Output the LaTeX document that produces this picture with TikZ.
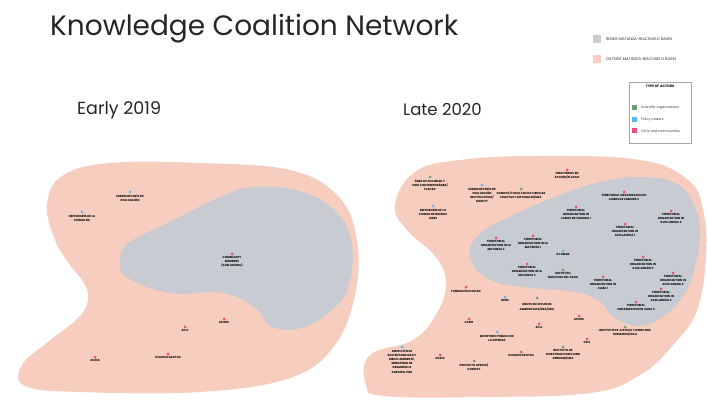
\documentclass[tikz,border=0pt]{standalone}
\usepackage{fontspec}
\setmainfont{Poppins}
\usetikzlibrary{positioning}
\definecolor{basinout}{HTML}{F6CDBE}
\definecolor{basinin}{HTML}{C8CCD2}
\definecolor{csocol}{HTML}{EE4A7E}
\definecolor{polcol}{HTML}{5BB9F0}
\definecolor{scicol}{HTML}{6EA06C}
\begin{document}
\begin{tikzpicture}[x=1pt, y=-1pt, node distance=0.8pt,
    cso/.style={circle, fill=csocol, inner sep=0pt, minimum size=3pt},
    policy/.style={cso, fill=polcol},
    sci/.style={cso, fill=scicol},
    actor/.style={align=center, inner sep=0pt, font=\fontsize{2.9}{4.1}\selectfont\bfseries},
    heading/.style={anchor=west, inner sep=0pt, text=black!85},
    swatch/.style={inner sep=0pt, minimum size=8pt},
    legtext/.style={anchor=west, inner sep=0pt, text=black!80, font=\fontsize{3.9}{4.5}\selectfont}]
    \useasboundingbox (0,0) rectangle (707,401);
    \fill[white] (0,0) rectangle (707,401);

    \node[heading, font=\fontsize{28}{32}\selectfont] (title) at (50,29) {Knowledge Coalition Network};
    \node[heading, font=\fontsize{17.5}{20}\selectfont] (early) at (77,110) {Early 2019};
    \node[heading, font=\fontsize{16.5}{20}\selectfont] (late) at (403,110) {Late 2020};

    \fill[basinout] plot[smooth cycle, tension=0.65] coordinates {(47,205) (55,240) (70,265) (84,283) (88,300) (78,318) (48,342) (22,365) (25,386) (80,392) (200,392) (290,378) (335,345) (356,290) (356,235) (337,195) (290,170) (200,163) (110,163) (62,176)};
    \fill[basinin] plot[smooth cycle, tension=0.7] coordinates {(120,260) (130,242) (170,222) (220,197) (255,187) (303,192) (337,213) (352,245) (349,285) (335,307) (305,327) (272,327) (255,308) (222,293) (170,293) (128,278)};

    \fill[basinout] plot[smooth cycle, tension=0.7] coordinates {(395,205) (407,230) (435,256) (446,282) (437,313) (413,340) (370,355) (366,385) (385,396) (480,397) (590,393) (640,375) (673,345) (697,310) (706,255) (703,210) (688,180) (640,160) (540,156) (460,160) (415,172)};
    \fill[basinin] plot[smooth cycle, tension=0.7] coordinates {(470,257) (481,233) (520,212) (560,195) (600,182) (640,177) (675,183) (693,203) (700,230) (696,262) (685,293) (665,315) (640,326) (615,318) (598,300) (570,291) (533,288) (490,280)};

    \node[swatch, fill=basinin] (insq) at (596.5,39.5) {};
    \node[legtext, right=5pt of insq] (intx) {INSIDE MATANZA-RIACHUELO BASIN};
    \node[swatch, fill=basinout] (outsq) at (596.5,59.5) {};
    \node[legtext, right=5pt of outsq] (outtx) {OUTSIDE MATANZA-RIACHUELO BASIN};

    \node[draw=black!35, line width=0.4pt, minimum width=62pt, minimum height=61pt] (typebox) at (660,112.5) {};
    \node[below=3pt of typebox.north, inner sep=0pt, font=\fontsize{3.4}{4}\selectfont\bfseries] (typetx) {TYPE OF ACTORS};
    \node[swatch, minimum size=5pt, fill=scicol] (scisq) at (634,108) {};
    \node[legtext, font=\fontsize{3.3}{4}\selectfont, right=4pt of scisq] (scitx) {Scientific organizations};
    \node[swatch, minimum size=5pt, fill=polcol] (polsq) at (634,119.5) {};
    \node[legtext, font=\fontsize{3.3}{4}\selectfont, right=4pt of polsq] (poltx) {Policy makers};
    \node[swatch, minimum size=5pt, fill=csocol] (csosq) at (634,131) {};
    \node[legtext, font=\fontsize{3.3}{4}\selectfont, right=4pt of csosq] (csotx) {CSOs and communities};

    \node[policy] (subev) at (130,192) {};
    \node[actor, below=of subev] (subevt) {SUBSECRETARÍA DE\\EVALUACIÓN};
    \node[policy] (def) at (82,212) {};
    \node[actor, below=of def] (deft) {DEFENSORÍA DE LA\\CIUDAD BA};
    \node[cso] (comm) at (232,254) {};
    \node[actor, below=of comm] (commt) {COMMUNITY\\MEMBERS\\(AVELLANEDA)};
    \node[cso] (afides) at (224,319) {};
    \node[actor, below=of afides] (afidest) {AFIDES};
    \node[cso] (acij) at (185,327) {};
    \node[actor, below=of acij] (acijt) {ACIJ};
    \node[cso] (icono) at (168,354) {};
    \node[actor, below=of icono] (iconot) {ICONOCLASISTAS};
    \node[cso] (avina) at (95,357) {};
    \node[actor, below=of avina] (avinat) {AVINA};

    \node[sci] (flacso) at (430,177) {};
    \node[actor, below=of flacso] (flacsot) {ÁREA DE SOCIEDAD Y\\VIDA CONTEMPORÁNEA/\\FLACSO};
    \node[policy] (defb) at (433,206) {};
    \node[actor, below=of defb] (defbt) {DEFENSORÍA DE LA\\CIUDAD DE BUENOS\\AIRES};
    \node[policy] (subevb) at (482,185) {};
    \node[actor, below=of subevb] (subevbt) {SUBSECRETARÍA DE\\EVALUACIÓN\\INSTITUCIONAL/\\MINCYT};
    \node[sci] (conicet) at (521,189) {};
    \node[actor, below=of conicet] (conicett) {CONICET/ FACULTAD DE CIENCIAS\\EXACTAS Y NATURALES/UBA};
    \node[cso] (terracc) at (567,170) {};
    \node[actor, below=of terracc] (terracct) {TERRITORIOS EN\\ACCIÓN/FLACSO};
    \node[cso] (lomas1) at (576,207) {};
    \node[actor, below=of lomas1] (lomas1t) {TERRITORIAL\\ORGANIZATION IN\\LOMAS DE ZAMORA 1};
    \node[cso] (lomas2) at (624,192) {};
    \node[actor, below=of lomas2] (lomas2t) {TERRITORIAL ORGANIZATION IN\\LOMAS DE ZAMORA 2};
    \node[cso] (avell3) at (671,211) {};
    \node[actor, below=of avell3] (avell3t) {TERRITORIAL\\ORGANIZATION IN\\AVELLANEDA 3};
    \node[cso] (avell1) at (625,224) {};
    \node[actor, below=of avell1] (avell1t) {TERRITORIAL\\ORGANIZATION IN\\AVELLANEDA 1};
    \node[cso] (avell5) at (643,257) {};
    \node[actor, below=of avell5] (avell5t) {TERRITORIAL\\ORGANIZATION IN\\AVELLANEDA 5};
    \node[cso] (avell4) at (673,273) {};
    \node[actor, below=of avell4] (avell4t) {TERRITORIAL\\ORGANIZATION IN\\AVELLANEDA 4};
    \node[cso] (avell2) at (661,289) {};
    \node[actor, below=of avell2] (avell2t) {TERRITORIAL\\ORGANIZATION IN\\AVELLANEDA 2};
    \node[cso] (caba1) at (603,277) {};
    \node[actor, below=of caba1] (caba1t) {TERRITORIAL\\ORGANIZATION IN\\CABA 1};
    \node[cso] (caba2) at (636,302) {};
    \node[actor, below=of caba2] (caba2t) {TERRITORIAL\\ORGANIZATION IN CABA 2};
    \node[sci] (ijdh) at (625,327) {};
    \node[actor, below=of ijdh] (ijdht) {INSTITUTO DE JUSTICIA Y DERECHOS\\HUMANOS/UNLA};
    \node[cso] (mat2) at (496,238) {};
    \node[actor, below=of mat2] (mat2t) {TERRITORIAL\\ORGANIZATION IN LA\\MATANZA 2};
    \node[cso] (mat1) at (533,236) {};
    \node[actor, below=of mat1] (mat1t) {TERRITORIAL\\ORGANIZATION IN LA\\MATANZA 1};
    \node[policy] (acumar) at (563,251) {};
    \node[actor, below=of acumar] (acumart) {ACUMAR};
    \node[cso] (mat3) at (527,264) {};
    \node[actor, below=of mat3] (mat3t) {TERRITORIAL\\ORGANIZATION IN LA\\MATANZA 3};
    \node[sci] (ina) at (563,270) {};
    \node[actor, below=of ina] (inat) {INSTITUTO\\NACIONAL DEL AGUA};
    \node[cso] (fundciu) at (466,287) {};
    \node[actor, below=of fundciu] (fundciut) {FUNDACIÓN CIUDAD};
    \node[policy] (opds) at (505,297) {};
    \node[actor, below=of opds] (opdst) {OPDS};
    \node[sci] (gea) at (537,298) {};
    \node[actor, below=4pt of gea] (geat) {GRUPO DE ESTUDIOS\\AMBIENTALES/GEA/UBA};
    \node[cso] (acdh) at (469,319) {};
    \node[actor, below=of acdh] (acdht) {ACDH};
    \node[cso] (acijb) at (539,324) {};
    \node[actor, below=of acijb] (acijbt) {ACIJ};
    \node[cso] (afidesb) at (579,316) {};
    \node[actor, below=of afidesb] (afidesbt) {AFIDES};
    \node[policy] (mpd) at (497,332) {};
    \node[actor, below=of mpd] (mpdt) {MINISTERIO PÚBLICO DE\\LA DEFENSA};
    \node[cso] (cels) at (587,339) {};
    \node[actor, below=of cels] (celst) {CELS};
    \node[sci] (germani) at (563,347) {};
    \node[actor, below=of germani] (germanit) {INSTITUTO DE\\INVESTIGACIONES GINO\\GERMANI/UBA};
    \node[cso] (iconob) at (521,352) {};
    \node[actor, below=of iconob] (iconobt) {ICONOCLASISTAS};
    \node[policy] (dsma) at (402,347) {};
    \node[actor, below=of dsma] (dsmat) {DIRECCIÓN DE\\SUSTENTABILIDAD Y\\MEDIO AMBIENTE,\\MINISTERIO DE\\DESARROLLO\\AGRARIO, PBA};
    \node[cso] (avinab) at (440,355) {};
    \node[actor, below=of avinab] (avinabt) {AVINA};
    \node[sci] (apraxi) at (474,361) {};
    \node[actor, below=of apraxi] (apraxit) {PROYECTO APRAXI/\\CONICET};
\end{tikzpicture}
\end{document}
